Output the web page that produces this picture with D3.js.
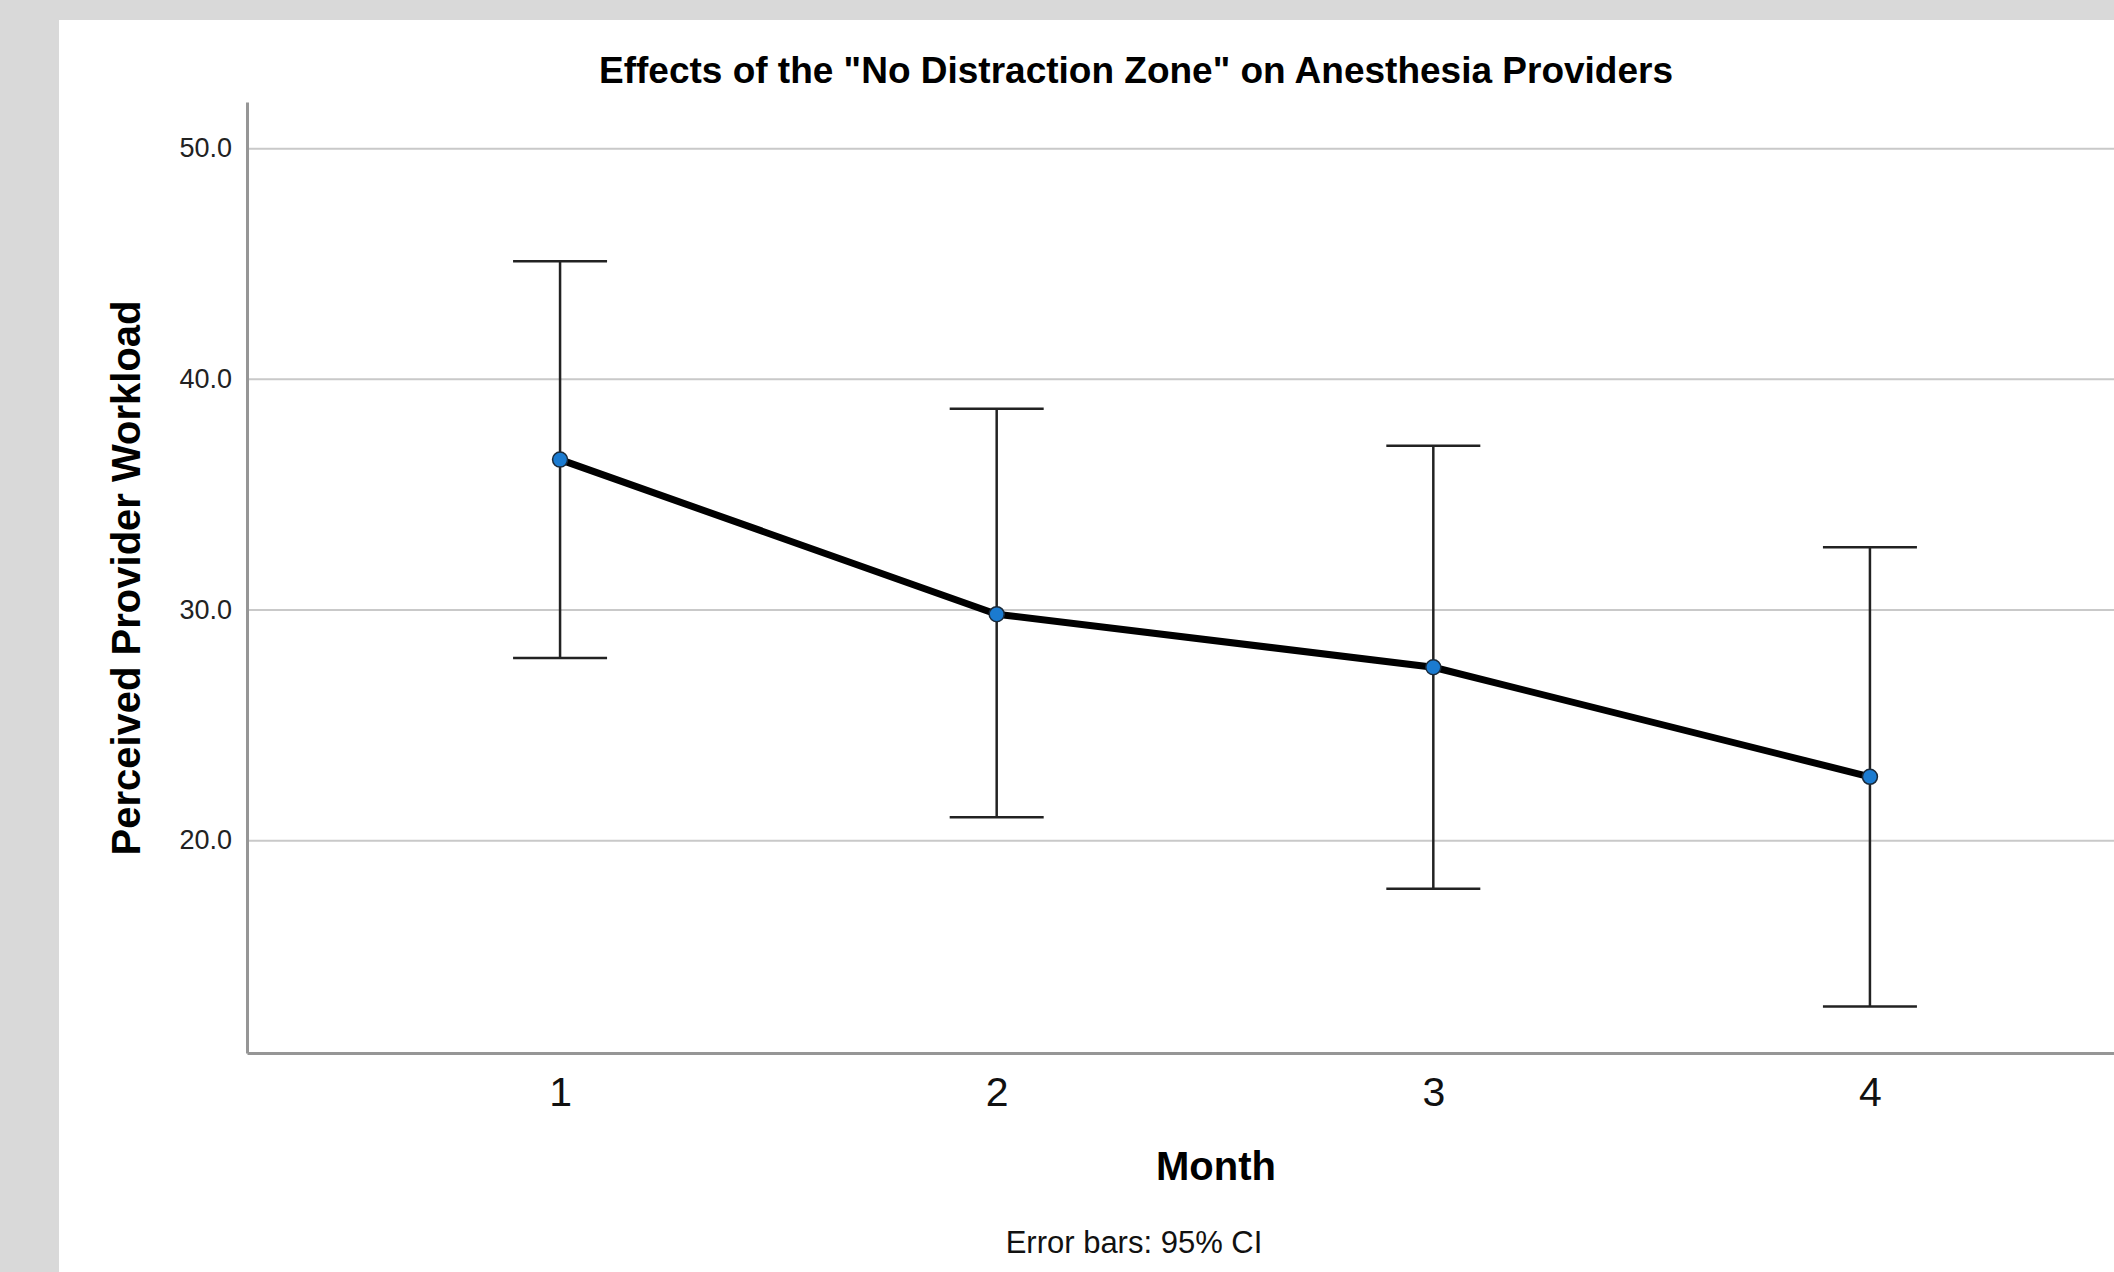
<!DOCTYPE html>
<html lang="en">
<head>
    <meta charset="UTF-8">
    <title>Effects of the "No Distraction Zone" on Anesthesia Providers</title>
    <script src="https://cdnjs.cloudflare.com/ajax/libs/d3/7.8.5/d3.min.js"></script>
    <style>
        body { margin: 0; background: #d9d9d9; font-family: "Liberation Sans", Arial, sans-serif; }
        svg { display: block; }
    </style>
</head>
<body>
    <div id="chart"></div>
    <script>
    // values
    const months = ["1", "2", "3", "4"];
    const means = [36.5, 29.8, 27.5, 22.75];
    const ciLower = [27.9, 21.0, 17.9, 12.8];
    const ciUpper = [45.1, 38.7, 37.1, 32.7];
    const yTicks = [20, 30, 40, 50];

    const data = months.map((m, i) => ({month: m, mean: means[i], lo: ciLower[i], hi: ciUpper[i]}));

    const W = 2114, H = 1272;
    const plot = {left: 247, top: 102, bottom: 1053, right: 2183};

    const svg = d3.select("#chart").append("svg")
        .attr("width", W)
        .attr("height", H);

    // white panel on grey page
    svg.append("rect")
        .attr("x", 59).attr("y", 20)
        .attr("width", W - 59).attr("height", H - 20)
        .attr("fill", "#fff");

    const x = d3.scalePoint()
        .domain(months)
        .range([plot.left, plot.right])
        .padding(0.717);

    const y = d3.scaleLinear()
        .domain([10.78, 52.0])
        .range([plot.bottom, plot.top]);

    // gridlines
    svg.append("g")
        .attr("transform", `translate(${plot.left},0)`)
        .call(d3.axisLeft(y).tickValues(yTicks).tickSize(-(W - plot.left)).tickFormat(""))
        .call(g => g.select(".domain").remove())
        .call(g => g.selectAll("line").attr("stroke", "#c9c9c9").attr("stroke-width", 2));

    // y axis
    svg.append("g")
        .attr("transform", `translate(${plot.left},0)`)
        .call(d3.axisLeft(y).tickValues(yTicks).tickFormat(d3.format(".1f")).tickSize(0).tickSizeOuter(0).tickPadding(15))
        .call(g => g.select(".domain").attr("stroke", "#969696").attr("stroke-width", 3))
        .call(g => g.selectAll("text")
            .attr("font-family", "'Liberation Sans', Arial, sans-serif")
            .attr("font-size", 27)
            .attr("fill", "#222"));

    // x axis
    svg.append("g")
        .attr("transform", `translate(0,${plot.bottom})`)
        .call(d3.axisBottom(x).tickSize(0).tickSizeOuter(0).tickPadding(24))
        .call(g => g.select(".domain").attr("stroke", "#969696").attr("stroke-width", 3))
        .call(g => g.selectAll("text")
            .attr("font-family", "'Liberation Sans', Arial, sans-serif")
            .attr("font-size", 41)
            .attr("fill", "#111"));

    // error bars
    const capHalf = 47;
    const eb = svg.append("g").attr("stroke", "#222").attr("stroke-width", 2.5);
    eb.selectAll(".whisker").data(data).join("line")
        .attr("x1", d => x(d.month)).attr("x2", d => x(d.month))
        .attr("y1", d => y(d.lo)).attr("y2", d => y(d.hi));
    eb.selectAll(".cap-hi").data(data).join("line")
        .attr("x1", d => x(d.month) - capHalf).attr("x2", d => x(d.month) + capHalf)
        .attr("y1", d => y(d.hi)).attr("y2", d => y(d.hi));
    eb.selectAll(".cap-lo").data(data).join("line")
        .attr("x1", d => x(d.month) - capHalf).attr("x2", d => x(d.month) + capHalf)
        .attr("y1", d => y(d.lo)).attr("y2", d => y(d.lo));

    // mean line
    const line = d3.line()
        .x(d => x(d.month))
        .y(d => y(d.mean));

    svg.append("path")
        .datum(data)
        .attr("d", line)
        .attr("fill", "none")
        .attr("stroke", "#000")
        .attr("stroke-width", 7)
        .attr("stroke-linejoin", "round");

    svg.selectAll(".pt").data(data).join("circle")
        .attr("cx", d => x(d.month))
        .attr("cy", d => y(d.mean))
        .attr("r", 7.5)
        .attr("fill", "#1b7bd0")
        .attr("stroke", "#1a2a3a")
        .attr("stroke-width", 1.5);

    // titles
    svg.append("text")
        .attr("x", 1136).attr("y", 83)
        .attr("text-anchor", "middle")
        .attr("font-size", 37).attr("font-weight", "bold")
        .text('Effects of the "No Distraction Zone" on Anesthesia Providers');

    svg.append("text")
        .attr("transform", "translate(140,578) rotate(-90)")
        .attr("text-anchor", "middle")
        .attr("font-size", 40).attr("font-weight", "bold")
        .text("Perceived Provider Workload");

    svg.append("text")
        .attr("x", 1216).attr("y", 1180)
        .attr("text-anchor", "middle")
        .attr("font-size", 40).attr("font-weight", "bold")
        .text("Month");

    svg.append("text")
        .attr("x", 1134).attr("y", 1253)
        .attr("text-anchor", "middle")
        .attr("font-size", 31)
        .attr("fill", "#111")
        .text("Error bars: 95% CI");
    </script>
</body>
</html>
